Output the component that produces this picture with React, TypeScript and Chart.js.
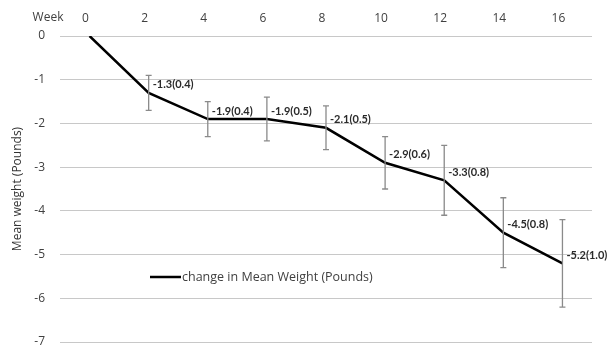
import React, { useEffect, useRef } from 'react';
import { Chart, registerables } from 'chart.js';

Chart.register(...registerables);

const weeks = ['0', '2', '4', '6', '8', '10', '12', '14', '16'];
const meanChange = [0, -1.3, -1.9, -1.9, -2.1, -2.9, -3.3, -4.5, -5.2];
const stdErr: (number | null)[] = [null, 0.4, 0.4, 0.5, 0.5, 0.6, 0.8, 0.8, 1.0];
const yMin = -7;
const yMax = 0;
const seriesName = 'change in Mean Weight (Pounds)';
const xCornerLabel = 'Week';
const yTitle = 'Mean weight (Pounds)';

const FONT = '"Open Sans", Lato, sans-serif';
const LABEL_FONT = 'Lato, "Open Sans", sans-serif';

const extrasPlugin = {
  id: 'extras',
  afterDatasetsDraw(chart: any) {
    const ctx = chart.ctx;
    const xs = chart.scales.x;
    const ys = chart.scales.y;
    const area = chart.chartArea;
    ctx.save();
    // error bars
    ctx.strokeStyle = '#8a8a8a';
    ctx.lineWidth = 1.3;
    weeks.forEach((_, i) => {
      const se = stdErr[i];
      if (se == null) return;
      const px = xs.getPixelForValue(i);
      const t = ys.getPixelForValue(meanChange[i] + se);
      const b = ys.getPixelForValue(meanChange[i] - se);
      ctx.beginPath();
      ctx.moveTo(px, t);
      ctx.lineTo(px, b);
      ctx.moveTo(px - 3, t);
      ctx.lineTo(px + 3, t);
      ctx.moveTo(px - 3, b);
      ctx.lineTo(px + 3, b);
      ctx.stroke();
    });
    // point labels
    ctx.font = `bold 11px ${LABEL_FONT}`;
    ctx.fillStyle = '#2a2a2a';
    ctx.textAlign = 'left';
    ctx.textBaseline = 'middle';
    weeks.forEach((_, i) => {
      const se = stdErr[i];
      if (se == null) return;
      const px = xs.getPixelForValue(i);
      const py = ys.getPixelForValue(meanChange[i]);
      ctx.fillText(`${meanChange[i].toFixed(1)}(${se.toFixed(1)})`, px + 4, py - 8);
    });
    // legend inside plot
    const lx = area.left + 90;
    const ly = area.top + 241;
    ctx.strokeStyle = '#000';
    ctx.lineWidth = 2.5;
    ctx.beginPath();
    ctx.moveTo(lx, ly);
    ctx.lineTo(lx + 31, ly);
    ctx.stroke();
    ctx.font = `12.5px ${FONT}`;
    ctx.fillStyle = '#404040';
    ctx.fillText(seriesName, lx + 32, ly);
    // corner label "Week"
    ctx.font = `12px ${FONT}`;
    ctx.textAlign = 'center';
    ctx.fillStyle = '#404040';
    ctx.fillText(xCornerLabel, 48, 18);
    ctx.restore();
  },
};

export default function App() {
  const ref = useRef<HTMLCanvasElement>(null);
  useEffect(() => {
    document.body.style.margin = '0';
    const chart = new Chart(ref.current!, {
      type: 'line',
      data: {
        labels: weeks,
        datasets: [
          {
            label: seriesName,
            data: meanChange,
            borderColor: '#000',
            borderWidth: 2.5,
            pointRadius: 0,
            tension: 0,
            fill: false,
          },
        ],
      },
      options: {
        responsive: false,
        animation: false,
        devicePixelRatio: 1,
        layout: { padding: { left: 0, right: 23, top: 0, bottom: 5 } },
        plugins: { legend: { display: false }, tooltip: { enabled: false } },
        scales: {
          x: {
            position: 'top',
            offset: true,
            grid: { display: false, drawTicks: false },
            border: { display: false },
            ticks: {
              color: '#404040',
              font: { family: FONT, size: 12 },
              padding: 10,
              labelOffset: -4,
              maxRotation: 0,
            },
            afterFit: (s: any) => {
              s.height = 36;
              s.paddingLeft = 0;
              s.paddingRight = 0;
            },
          },
          y: {
            min: yMin,
            max: yMax,
            grid: { color: '#c8c8c8', lineWidth: 1, drawTicks: false },
            border: { display: false },
            ticks: {
              stepSize: 1,
              color: '#404040',
              font: { family: FONT, size: 12 },
              padding: 15,
            },
            title: {
              display: true,
              text: yTitle,
              color: '#333333',
              font: { family: FONT, size: 12 },
              padding: { top: 10, bottom: 0 },
            },
            afterFit: (s: any) => {
              s.width = 60;
              s.paddingTop = 0;
              s.paddingBottom = 0;
            },
          },
        },
      },
      plugins: [extrasPlugin],
    });
    return () => chart.destroy();
  }, []);
  return (
    <div style={{ width: 615, height: 347, background: '#fff' }}>
      <canvas ref={ref} width={615} height={347} />
    </div>
  );
}
